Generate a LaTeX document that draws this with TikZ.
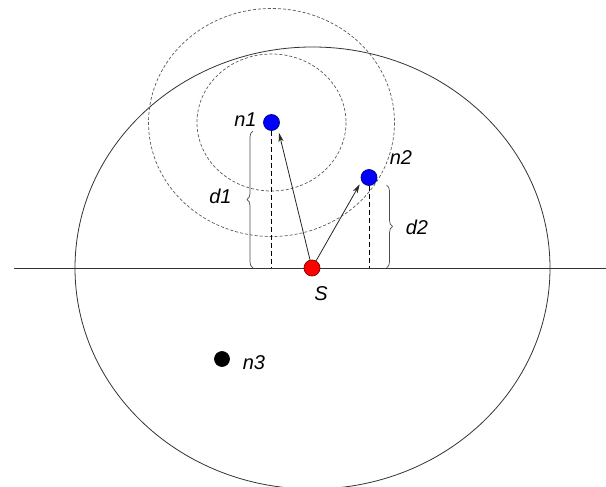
\documentclass[tikz,border=0pt]{standalone}
\usepackage{fontspec}
\setmainfont{Liberation Sans}
\usetikzlibrary{decorations.pathreplacing,arrows.meta}
\begin{document}
\begin{tikzpicture}[x=1pt,y=-1pt,
 solidline/.style={draw=black!80,line width=0.8pt},
 dcirc/.style={draw=black!65,line width=0.7pt,dash pattern=on 3pt off 2pt},
 dropline/.style={draw=black,line width=0.9pt,dash pattern=on 5pt off 3pt},
 arr/.style={draw=black!85,line width=0.8pt,-{Stealth[length=9pt,width=5pt,inset=2.5pt]}},
 dotnode/.style={circle,inner sep=0pt,minimum size=16pt,line width=0.7pt},
 bluedot/.style={dotnode,fill=blue,draw=blue!50!black},
 reddot/.style={dotnode,fill=red,draw=red!50!black},
 blackdot/.style={dotnode,fill=black,draw=black,minimum size=15pt},
 lbl/.style={font=\fontsize{20}{24}\selectfont\itshape,inner sep=0pt},
 brc/.style={draw=black!70,line width=0.7pt,decorate,decoration={brace,amplitude=6pt}}
]
\useasboundingbox (0,0) rectangle (606,487);
% big ellipse and base line
\coordinate (L) at (14,268);
\coordinate (R) at (606,268);
\coordinate (C) at (312.5,268);
\draw[solidline] (C) ellipse [x radius=237.5, y radius=221];
\draw[solidline] (L) -- (R);
% nodes
\node[bluedot] (n1) at (271.5,122.5) {};
\node[bluedot] (n2) at (369,177.5) {};
\node[reddot] (S) at (312,268) {};
\node[blackdot] (n3) at (222,359) {};
% dashed circles round n1
\draw[dcirc] (n1.center) ellipse [x radius=74.5, y radius=68.5];
\draw[dcirc] (n1.center) ellipse [x radius=123, y radius=114];
% drop lines
\draw[dropline] (n1.south) -- (n1 |- L);
\draw[dropline] (n2.south) -- (n2 |- L);
% arrows
\draw[arr,shorten >=5pt] (S) -- (n1.-41);
\draw[arr,shorten >=3.6pt] (S) -- (n2.206);
% braces
\coordinate (b1a) at (253,268);
\coordinate (b1b) at (253,131);
\coordinate (b2a) at (386.5,185);
\coordinate (b2b) at (386.5,268);
\draw[brc] (b1a) -- (b1b);
\draw[brc] (b2a) -- (b2b);
% labels
\node[lbl] (ln1) at (245.5,120) {n1};
\node[lbl] (ln2) at (401,158) {n2};
\node[lbl] (lS) at (321,293.5) {S};
\node[lbl] (ln3) at (254,362.5) {n3};
\node[lbl] (ld1) at (220.5,196) {d1};
\node[lbl] (ld2) at (417,227) {d2};
\end{tikzpicture}
\end{document}
